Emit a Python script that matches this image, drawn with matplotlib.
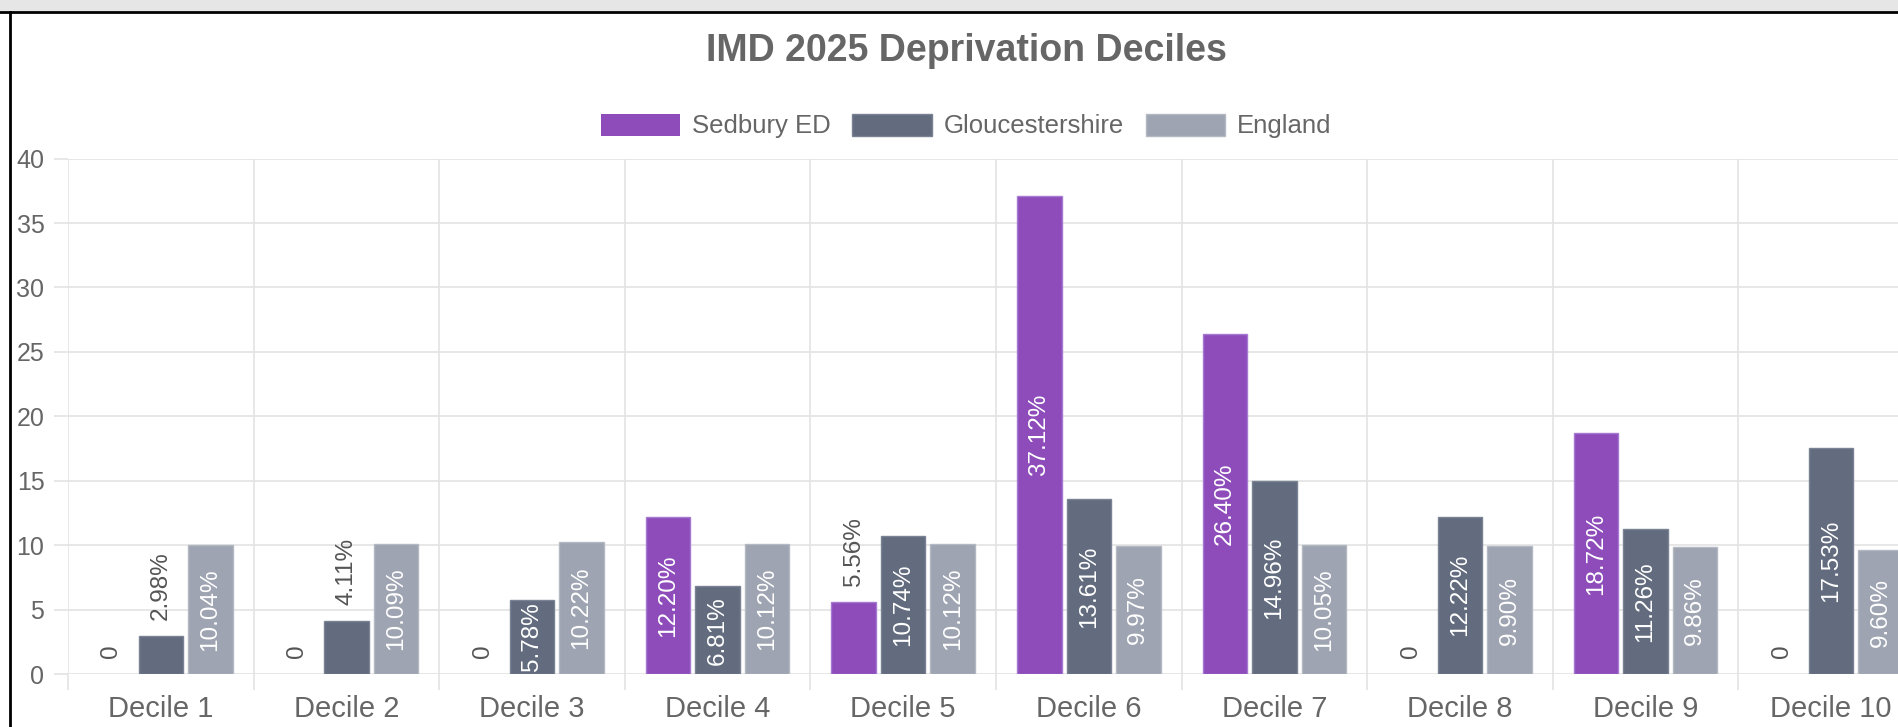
import matplotlib
matplotlib.use("Agg")
import matplotlib.pyplot as plt
from matplotlib.patches import Rectangle
from matplotlib.ticker import FixedLocator
from matplotlib.transforms import ScaledTranslation
import numpy as np

plt.rcParams['font.family'] = ['Liberation Sans', 'DejaVu Sans']

deciles = ['Decile 1', 'Decile 2', 'Decile 3', 'Decile 4', 'Decile 5',
           'Decile 6', 'Decile 7', 'Decile 8', 'Decile 9', 'Decile 10']
sedbury = [0, 0, 0, 12.20, 5.56, 37.12, 26.40, 0, 18.72, 0]
glos = [2.98, 4.11, 5.78, 6.81, 10.74, 13.61, 14.96, 12.22, 11.26, 17.53]
england = [10.04, 10.09, 10.22, 10.12, 10.12, 9.97, 10.05, 9.90, 9.86, 9.60]
series_names = ['Sedbury ED', 'Gloucestershire', 'England']

colors = ['#8e4cbb', '#626c7e', '#9ea4b1']
edges = ['#a57ad0', '#7a8394', '#b3b8c2']
grid_col = '#e3e3e3'
text_col = '#666666'

W, H = 1898, 727
fig = plt.figure(figsize=(W / 100, H / 100), dpi=100)

# screenshot frame: grey band at top, black border
fig.patches.append(Rectangle((0, 1 - 11 / H), 1, 11 / H, transform=fig.transFigure,
                             facecolor='#e6e6e6', edgecolor='none', zorder=0))
fig.lines.append(plt.Line2D([0, 1], [1 - 12 / H, 1 - 12 / H], transform=fig.transFigure,
                            color='black', lw=2))
fig.lines.append(plt.Line2D([9.5 / W, 9.5 / W], [0, 1 - 12 / H], transform=fig.transFigure,
                            color='black', lw=2))

# plot area: x from 68px to 1924px (cut off by the screenshot), y0 at 674px, y40 at 158.6px
left = 68 / W
width = 1856 / W
bottom = (H - 674) / H
height = (674 - 158.6) / H
ax = fig.add_axes([left, bottom, width, height])

x = np.arange(len(deciles))
bw = 0.24
offs = [-0.2667, 0, 0.2667]
all_vals = [sedbury, glos, england]

bars = []
for i, vals in enumerate(all_vals):
    lws = [1 if v > 0 else 0 for v in vals]
    b = ax.bar(x + offs[i], vals, bw, color=colors[i], edgecolor=edges[i], linewidth=lws,
               label=series_names[i], zorder=3)
    bars.append(b)

ax.set_xlim(-0.5, 9.5)
ax.set_ylim(0, 40)
ax.set_yticks(range(0, 41, 5))
ax.set_xticks(x)
ax.set_xticklabels(deciles)
ax.xaxis.set_minor_locator(FixedLocator(np.arange(-0.5, 10, 1)))

for s in ax.spines.values():
    s.set_visible(False)

ax.grid(True, axis='y', which='major', color=grid_col, lw=1.2, zorder=0)
ax.grid(True, axis='x', which='minor', color=grid_col, lw=1.2, zorder=0)
ax.tick_params(axis='x', which='major', length=0, pad=15, labelsize=21, labelcolor=text_col)
ax.tick_params(axis='x', which='minor', length=11.5, width=1.2, color=grid_col)
ax.tick_params(axis='y', length=10, width=1.2, color=grid_col, pad=7,
               labelsize=18, labelcolor=text_col)

# data labels, rotated
lift = ax.transData + ScaledTranslation(0, 16 / 100, fig.dpi_scale_trans)
for i, vals in enumerate(all_vals):
    for j, v in enumerate(vals):
        xc = j + offs[i]
        if v == 0:
            ax.text(xc, 0, '0', rotation=90, ha='center', va='bottom', fontsize=17.5,
                    color='#555555', zorder=4, transform=lift)
        elif v < 5.7:
            ax.text(xc, v, '%.2f%%' % v, rotation=90, ha='center', va='bottom', fontsize=17.5,
                    color='#555555', zorder=4, transform=lift)
        else:
            ax.text(xc, v / 2, '%.2f%%' % v, rotation=90, ha='center', va='center',
                    fontsize=17.5, color='white', zorder=4)

fig.text(966 / W, 1 - 51 / H, 'IMD 2025 Deprivation Deciles', ha='center', va='center',
         fontsize=27, fontweight='bold', color=text_col)

leg = fig.legend(handles=bars, labels=series_names, loc='center', ncol=3,
                 bbox_to_anchor=(966 / W, 1 - 126 / H), frameon=False,
                 fontsize=18.5, handlelength=3.1, handleheight=0.95,
                 handletextpad=0.45, columnspacing=0.85, borderpad=0)
for t in leg.get_texts():
    t.set_color(text_col)

fig.savefig('out.png', dpi=100)
